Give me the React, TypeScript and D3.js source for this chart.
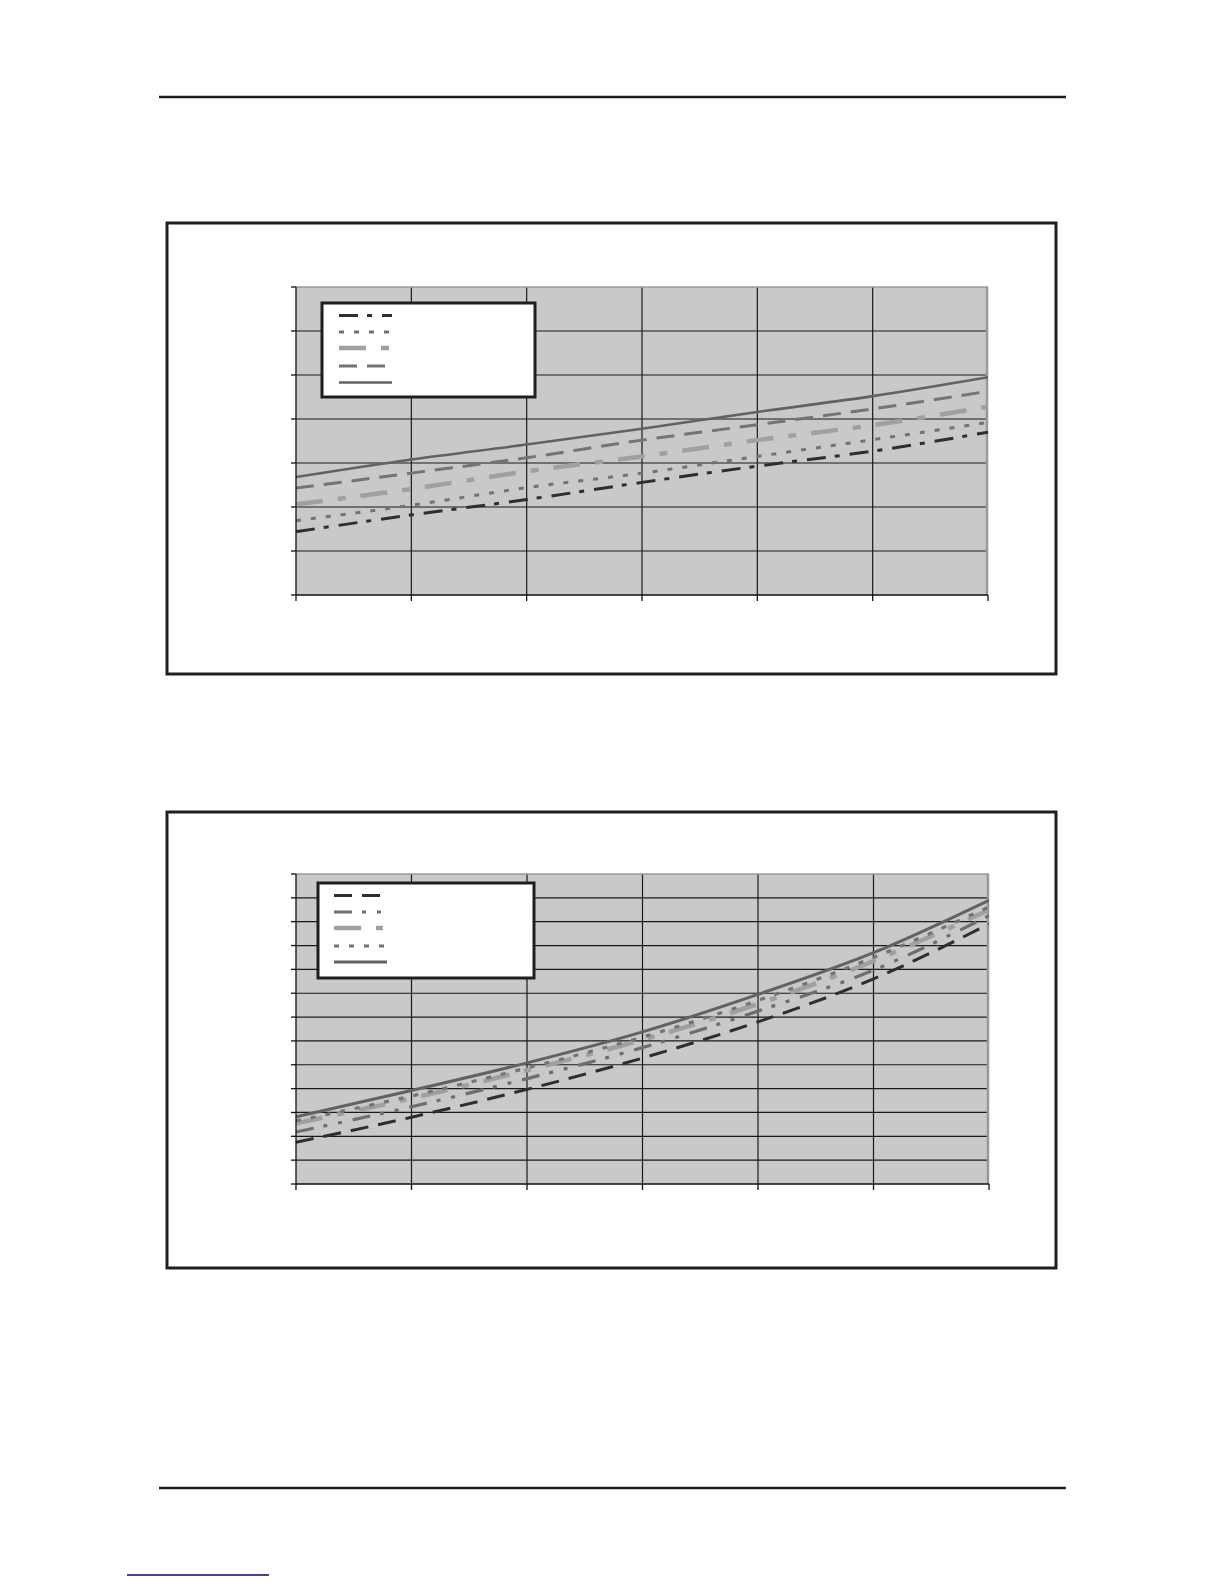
import React, { useRef, useEffect } from "react";
import * as d3 from "d3";

// Data (axis labels are blank in the source)
const xSteps = [0, 1, 2, 3, 4, 5, 6];
const upperYTicks = [0, 1, 2, 3, 4, 5, 6, 7];
const lowerYTicks = [0, 1, 2, 3, 4, 5, 6, 7, 8, 9, 10, 11, 12, 13];

// upper chart, legend order top to bottom
const upperDarkDashDot = [1.44, 1.82, 2.17, 2.56, 2.93, 3.27, 3.7];
const upperDotted = [1.69, 2.04, 2.44, 2.77, 3.15, 3.53, 3.92];
const upperLightDashDot = [2.06, 2.41, 2.81, 3.15, 3.52, 3.86, 4.28];
const upperDashed = [2.43, 2.77, 3.12, 3.52, 3.87, 4.23, 4.63];
const upperSolid = [2.68, 3.08, 3.42, 3.78, 4.16, 4.52, 4.95];

// lower chart, legend order top to bottom
const lowerDarkDashed = [1.75, 2.8, 3.97, 5.28, 6.8, 8.6, 10.9];
const lowerDashDotDot = [2.18, 3.24, 4.42, 5.72, 7.25, 8.97, 11.25];
const lowerLightDashDot = [2.55, 3.59, 4.77, 6.05, 7.55, 9.35, 11.5];
const lowerDotted = [2.65, 3.69, 4.87, 6.16, 7.7, 9.5, 11.62];
const lowerSolid = [2.82, 3.92, 5.08, 6.38, 7.95, 9.7, 11.9];

type LineStyle = { color: string; width: number; dash: string | null };

const upperStyles: LineStyle[] = [
  { color: "#2e2e2e", width: 3, dash: "19,9,5,10" },
  { color: "#727272", width: 3, dash: "5,10" },
  { color: "#a0a0a0", width: 4.5, dash: "27,15,8,15" },
  { color: "#747474", width: 3, dash: "18,10" },
  { color: "#626262", width: 2.6, dash: null },
];

const lowerStyles: LineStyle[] = [
  { color: "#2e2e2e", width: 3, dash: "18,10" },
  { color: "#6e6e6e", width: 3.2, dash: "18,10,4,11,4,11" },
  { color: "#a0a0a0", width: 4.5, dash: "27,15,7,15" },
  { color: "#747474", width: 3.2, dash: "5,10" },
  { color: "#626262", width: 3, dash: null },
];

interface Panel {
  id: string;
  frame: { x: number; y: number; w: number; h: number };
  plot: { x: number; y: number; w: number; h: number };
  legend: { x: number; y: number; w: number; h: number };
  legendRows: number[];
  legendLineX: [number, number];
  yTicks: number[];
  series: number[][];
  styles: LineStyle[];
}

const panels: Panel[] = [
  {
    id: "upper",
    frame: { x: 167, y: 223, w: 889, h: 451 },
    plot: { x: 296, y: 287, w: 692, h: 308 },
    legend: { x: 322, y: 303, w: 213, h: 94 },
    legendRows: [315.5, 332, 348, 366, 382.5],
    legendLineX: [339, 392],
    yTicks: upperYTicks,
    series: [upperDarkDashDot, upperDotted, upperLightDashDot, upperDashed, upperSolid],
    styles: upperStyles,
  },
  {
    id: "lower",
    frame: { x: 167, y: 812, w: 889, h: 456 },
    plot: { x: 296, y: 874, w: 693, h: 310 },
    legend: { x: 318, y: 883, w: 216, h: 95 },
    legendRows: [895.5, 912, 928, 946, 962],
    legendLineX: [334, 387],
    yTicks: lowerYTicks,
    series: [lowerDarkDashed, lowerDashDotDot, lowerLightDashDot, lowerDotted, lowerSolid],
    styles: lowerStyles,
  },
];

function drawPanel(root: d3.Selection<SVGSVGElement, unknown, null, undefined>, p: Panel) {
  const g = root.append("g").attr("class", p.id);

  // outer chart frame
  g.append("rect")
    .attr("x", p.frame.x)
    .attr("y", p.frame.y)
    .attr("width", p.frame.w)
    .attr("height", p.frame.h)
    .attr("fill", "#ffffff")
    .attr("stroke", "#1e1e1e")
    .attr("stroke-width", 3);

  const x = d3
    .scaleLinear()
    .domain([xSteps[0], xSteps[xSteps.length - 1]])
    .range([p.plot.x, p.plot.x + p.plot.w]);
  const y = d3
    .scaleLinear()
    .domain([p.yTicks[0], p.yTicks[p.yTicks.length - 1]])
    .range([p.plot.y + p.plot.h, p.plot.y]);

  // plot background
  g.append("rect")
    .attr("x", p.plot.x)
    .attr("y", p.plot.y)
    .attr("width", p.plot.w)
    .attr("height", p.plot.h)
    .attr("fill", "#c9c9ca");

  // gridlines
  const grid = g.append("g").attr("stroke", "#1a1a1a").attr("stroke-width", 1.2);
  grid
    .selectAll(".hgrid")
    .data(p.yTicks.slice(1, -1))
    .enter()
    .append("line")
    .attr("x1", p.plot.x)
    .attr("x2", p.plot.x + p.plot.w)
    .attr("y1", (d) => y(d))
    .attr("y2", (d) => y(d));
  grid
    .selectAll(".vgrid")
    .data(xSteps.slice(1, -1))
    .enter()
    .append("line")
    .attr("x1", (d) => x(d))
    .attr("x2", (d) => x(d))
    .attr("y1", p.plot.y)
    .attr("y2", p.plot.y + p.plot.h);

  // plot border (grey top and right)
  g.append("line")
    .attr("x1", p.plot.x)
    .attr("x2", p.plot.x + p.plot.w)
    .attr("y1", p.plot.y)
    .attr("y2", p.plot.y)
    .attr("stroke", "#999999")
    .attr("stroke-width", 1.5);
  g.append("line")
    .attr("x1", p.plot.x + p.plot.w - 1)
    .attr("x2", p.plot.x + p.plot.w - 1)
    .attr("y1", p.plot.y)
    .attr("y2", p.plot.y + p.plot.h)
    .attr("stroke", "#999999")
    .attr("stroke-width", 2.5);

  // series lines
  const clipId = `clip-${p.id}`;
  g.append("clipPath")
    .attr("id", clipId)
    .append("rect")
    .attr("x", p.plot.x)
    .attr("y", p.plot.y)
    .attr("width", p.plot.w)
    .attr("height", p.plot.h);

  const line = d3
    .line<number>()
    .x((_d, i) => x(xSteps[i]))
    .y((d) => y(d))
    .curve(d3.curveMonotoneX);

  g.append("g")
    .attr("clip-path", `url(#${clipId})`)
    .selectAll("path")
    .data(p.series)
    .enter()
    .append("path")
    .attr("d", (d) => line(d))
    .attr("fill", "none")
    .attr("stroke", (_d, i) => p.styles[i].color)
    .attr("stroke-width", (_d, i) => p.styles[i].width)
    .attr("stroke-dasharray", (_d, i) => p.styles[i].dash)
    .attr("stroke-linejoin", "round");

  // axes with outward ticks
  const axis = g.append("g").attr("stroke", "#111111").attr("stroke-width", 1.3);
  axis
    .append("line")
    .attr("x1", p.plot.x)
    .attr("x2", p.plot.x)
    .attr("y1", p.plot.y)
    .attr("y2", p.plot.y + p.plot.h);
  axis
    .append("line")
    .attr("x1", p.plot.x)
    .attr("x2", p.plot.x + p.plot.w)
    .attr("y1", p.plot.y + p.plot.h)
    .attr("y2", p.plot.y + p.plot.h);
  axis
    .selectAll(".ytick")
    .data(p.yTicks)
    .enter()
    .append("line")
    .attr("x1", p.plot.x - 5)
    .attr("x2", p.plot.x)
    .attr("y1", (d) => y(d))
    .attr("y2", (d) => y(d));
  axis
    .selectAll(".xtick")
    .data(xSteps)
    .enter()
    .append("line")
    .attr("x1", (d) => x(d))
    .attr("x2", (d) => x(d))
    .attr("y1", p.plot.y + p.plot.h)
    .attr("y2", p.plot.y + p.plot.h + 6);

  // legend (labels are blank in the source)
  g.append("rect")
    .attr("x", p.legend.x)
    .attr("y", p.legend.y)
    .attr("width", p.legend.w)
    .attr("height", p.legend.h)
    .attr("fill", "#ffffff")
    .attr("stroke", "#1e1e1e")
    .attr("stroke-width", 3);
  g.append("g")
    .selectAll("line")
    .data(p.styles)
    .enter()
    .append("line")
    .attr("x1", p.legendLineX[0])
    .attr("x2", p.legendLineX[1])
    .attr("y1", (_d, i) => p.legendRows[i])
    .attr("y2", (_d, i) => p.legendRows[i])
    .attr("stroke", (d) => d.color)
    .attr("stroke-width", (d) => d.width)
    .attr("stroke-dasharray", (d) => d.dash);
}

const App: React.FC = () => {
  const svgRef = useRef<SVGSVGElement | null>(null);

  useEffect(() => {
    if (!svgRef.current) return;
    const svg = d3.select(svgRef.current);
    svg.selectAll("*").remove();

    svg.append("rect").attr("width", 1224).attr("height", 1584).attr("fill", "#ffffff");

    // page header / footer rules
    const rules = [97, 1488];
    svg
      .selectAll(".rule")
      .data(rules)
      .enter()
      .append("line")
      .attr("x1", 159)
      .attr("x2", 1066)
      .attr("y1", (d) => d)
      .attr("y2", (d) => d)
      .attr("stroke", "#1e1e1e")
      .attr("stroke-width", 2.6);

    // link underline at the foot of the page
    svg
      .append("line")
      .attr("x1", 127)
      .attr("x2", 269)
      .attr("y1", 1575)
      .attr("y2", 1575)
      .attr("stroke", "#000080")
      .attr("stroke-width", 1.5);

    panels.forEach((p) => drawPanel(svg, p));

    return () => {
      svg.selectAll("*").remove();
    };
  }, []);

  return (
    <svg
      ref={svgRef}
      width={1224}
      height={1584}
      style={{ position: "absolute", left: 0, top: 0, display: "block" }}
    />
  );
};

export default App;
